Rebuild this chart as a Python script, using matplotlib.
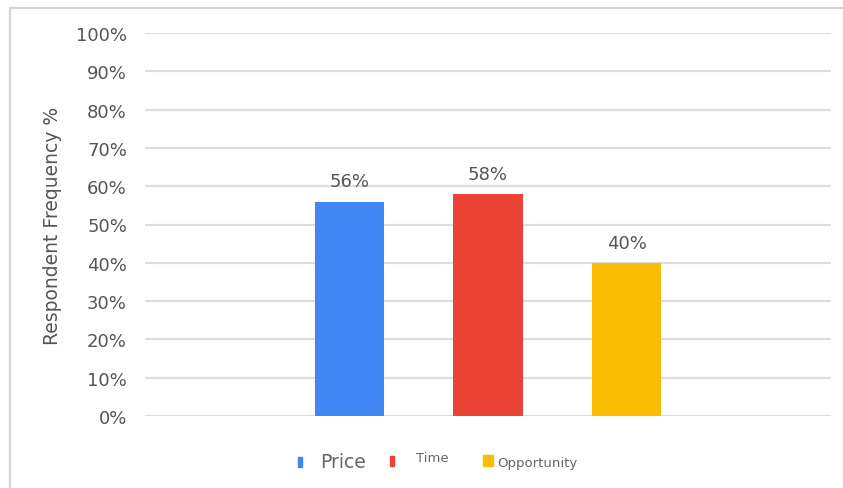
import matplotlib
matplotlib.use("Agg")
import matplotlib.pyplot as plt
from matplotlib.patches import Rectangle
from matplotlib.lines import Line2D

categories = ["Price", "Time", "Opportunity"]
values = [56, 58, 40]
colors = ["#4285F4", "#EA4335", "#FBBC04"]
yticks = list(range(0, 101, 10))
ylabel = "Respondent Frequency %"

W, H = 843, 489
fig = plt.figure(figsize=(W / 100, H / 100), dpi=100)
ax = fig.add_axes([145 / W, 1 - 417 / H, (831 - 145) / W, (417 - 34) / H])

x = list(range(len(categories)))
ax.bar(x, values, width=0.498, color=colors, zorder=3)
for xi, v in zip(x, values):
    ax.annotate(f"{v}%", (xi, v), xytext=(0, 8), textcoords="offset points",
                ha="center", va="bottom", fontsize=13, color="#555555")

ax.set_xlim(1 - 2.473, 1 + 2.473)
ax.set_ylim(0, 100)
ax.set_yticks(yticks)
ax.set_yticklabels([f"{t}%" for t in yticks], fontsize=13, color="#555555")
ax.set_xticks([])
ax.grid(axis="y", color="#dddddd", linewidth=1.6, zorder=0)
for s in ax.spines.values():
    s.set_visible(False)
ax.tick_params(axis="y", length=0, pad=13)
ax.set_ylabel(ylabel, fontsize=13.5, color="#555555", labelpad=10)

# frame border
fig.add_artist(Line2D([9.5 / W, 9.5 / W], [0, 1 - 8.5 / H], color="#d4d4d4", lw=1.5))
fig.add_artist(Line2D([9.5 / W, 1], [1 - 8.5 / H, 1 - 8.5 / H], color="#d4d4d4", lw=1.5))

# legend (manual)
leg = [
    (298, 458, 4, 10, 320, 463, 13.5),
    (390, 457, 4, 10, 416, 459, 9.5),
    (483, 456, 10, 11, 497, 464, 9.5),
]
for (mx, my, mw, mh, tx, ty, fs), lab, c in zip(leg, categories, colors):
    fig.add_artist(Rectangle((mx / W, 1 - (my + mh) / H), mw / W, mh / H,
                             color=c, transform=fig.transFigure))
    fig.text(tx / W, 1 - ty / H, lab, fontsize=fs, color="#666666",
             ha="left", va="center")

fig.savefig("out.png", dpi=100)
